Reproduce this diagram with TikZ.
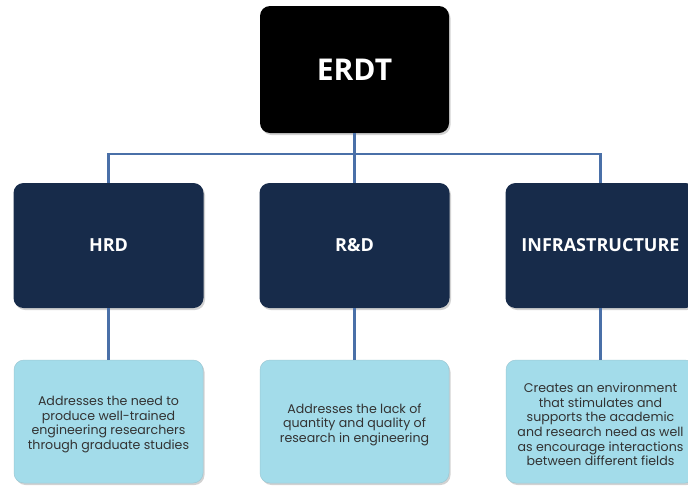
\documentclass[tikz,border=0pt]{standalone}
\usepackage{fontspec}
\setmainfont{Poppins}
\newfontfamily\titlefont{Open Sans}
\usetikzlibrary{shadows}
\definecolor{navy}{HTML}{172B4A}
\definecolor{lightbox}{HTML}{A3DCEA}
\definecolor{linkblue}{HTML}{4A70A8}
\tikzset{
  topbox/.style={fill=black, rounded corners=10pt, minimum width=189pt, minimum height=127pt,
    text=white, font=\titlefont\bfseries\fontsize{30}{34}\selectfont,
    drop shadow={shadow xshift=1.5pt, shadow yshift=-2pt, opacity=0.35}},
  midbox/.style={fill=navy, rounded corners=10pt, minimum width=190pt, minimum height=125pt,
    text=white, font=\titlefont\bfseries\fontsize{18}{21}\selectfont,
    drop shadow={shadow xshift=1.5pt, shadow yshift=-2pt, opacity=0.35}},
  descbox/.style={fill=lightbox, draw=lightbox!80!gray, line width=0.5pt, rounded corners=10pt, minimum width=189pt, minimum height=123pt,
    drop shadow={shadow xshift=1.5pt, shadow yshift=-2pt, opacity=0.35}},
  desctext/.style={text=black!80, align=center, font=\fontsize{12.6}{14.6}\selectfont, yshift=-3pt},
  link/.style={draw=linkblue, line width=2.2pt}
}
\begin{document}
\begin{tikzpicture}[x=1pt,y=-1pt]
\useasboundingbox (0,0) rectangle (688,485);
\clip (0,0) rectangle (688,485);
\fill[white] (0,0) rectangle (688,485);
\coordinate (bus) at (354.5,154);
\node[topbox] (erdt) at (354.5,69.5) {ERDT};
\node[midbox] (hrd) at (108.5,245.5) {HRD};
\node[midbox] (rd) at (354.5,245.5) {R\&D};
\node[midbox] (inf) at (600.5,245.5) {INFRASTRUCTURE};
\node[descbox] (hrdd) at (108.5,421.5) {};
\node[descbox] (rdd) at (354.5,421.5) {};
\node[descbox] (infd) at (600.5,421.5) {};
\node[desctext] (hrdt) at (hrdd.center) {Addresses the need to\\produce well-trained\\engineering researchers\\through graduate studies};
\node[desctext] (rdt) at (rdd.center) {Addresses the lack of\\quantity and quality of\\research in engineering};
\node[desctext] (inft) at (infd.center) {Creates an environment\\that stimulates and\\supports the academic\\and research need as well\\as encourage interactions\\between different fields};
\draw[link] (erdt.south) -- (bus);
\draw[link] (hrd.north) |- (bus) -| (inf.north);
\draw[link] (rd.north) -- (rd.north |- bus);
\draw[link] (hrd.south) -- (hrdd.north);
\draw[link] (rd.south) -- (rdd.north);
\draw[link] (inf.south) -- (infd.north);
\end{tikzpicture}
\end{document}
